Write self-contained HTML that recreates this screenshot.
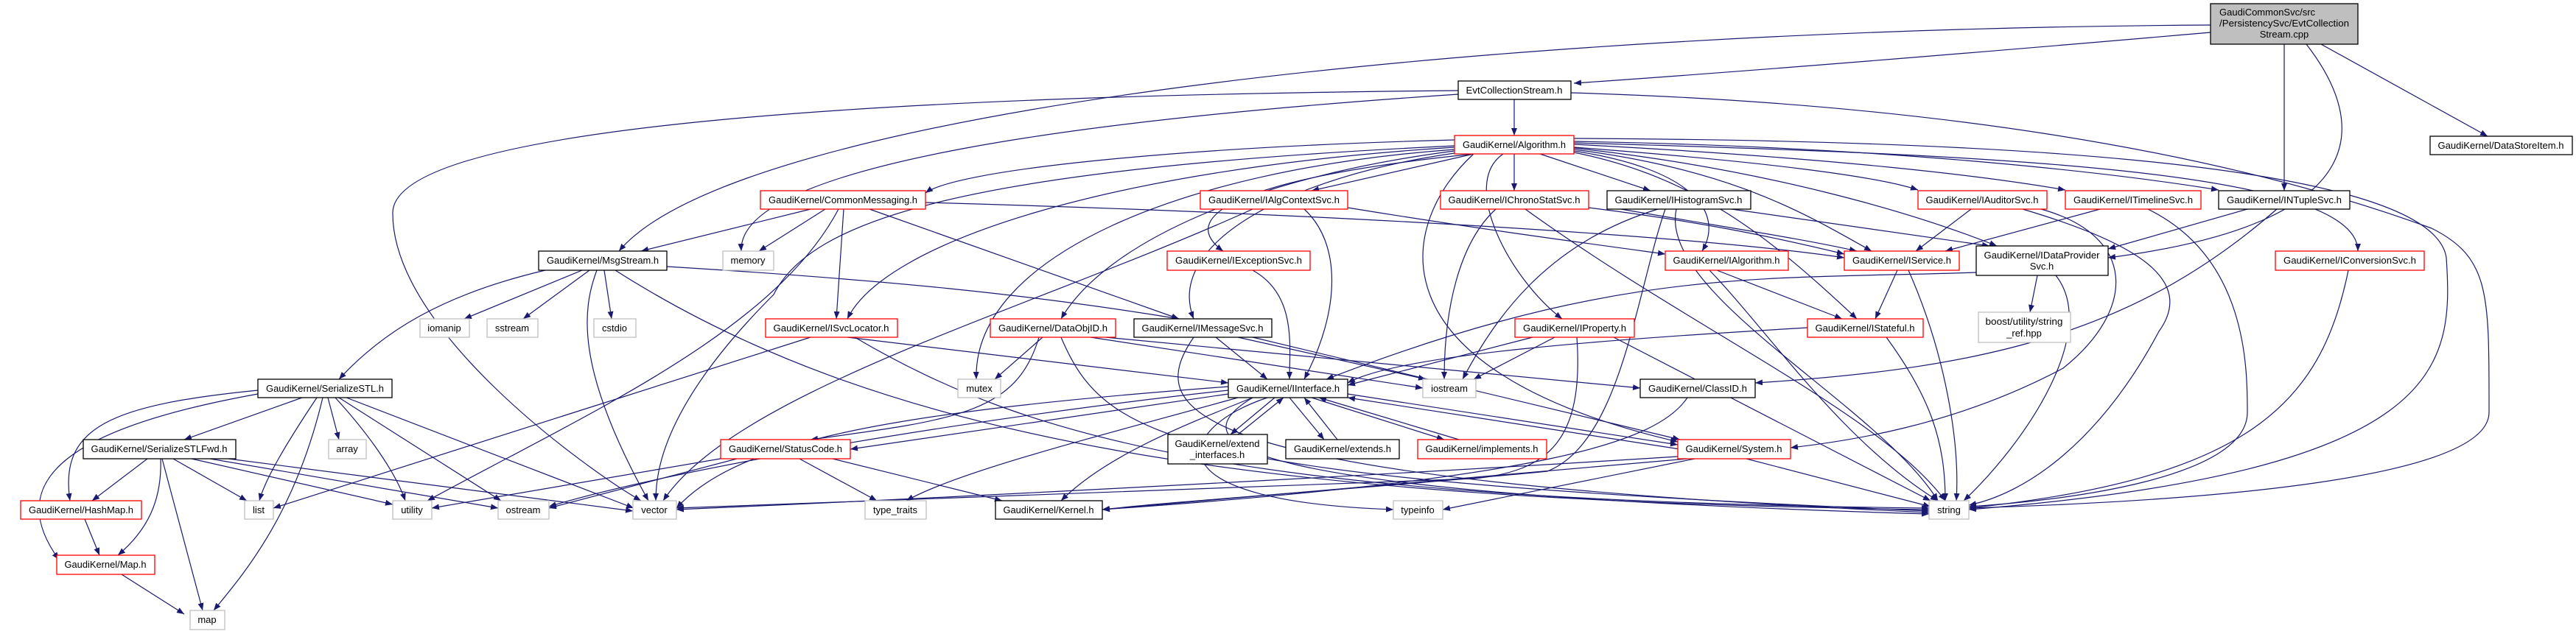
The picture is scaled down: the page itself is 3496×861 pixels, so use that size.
<!DOCTYPE html>
<html><head><meta charset="utf-8"><style>
html,body{margin:0;padding:0;background:#fff;}
svg{display:block}
text{font-family:"Liberation Sans",sans-serif;font-size:13px;fill:#000;}
.e{fill:none;stroke:#191970;stroke-width:1.2}
.b{fill:#fff;stroke:#000;stroke-width:1.3}
.r{fill:#fff;stroke:#ff0000;stroke-width:1.3}
.g{fill:#fff;stroke:#bfbfbf;stroke-width:1.3}
</style></head><body>
<svg width="3496" height="861" viewBox="0 0 3496 861" xmlns="http://www.w3.org/2000/svg">
<defs><marker id="a" viewBox="0 0 10 8" refX="10" refY="4" markerWidth="10" markerHeight="8" markerUnits="userSpaceOnUse" orient="auto"><path d="M0,0 L10,4 L0,8 z" fill="#191970"/></marker></defs>
<g class="e" marker-end="url(#a)">
<path d="M3000,44 C2700,70 2400,95 2136,113"/>
<path d="M3000,34 C2000,40 1000,150 840,341"/>
<path d="M3100,60 L3100,259"/>
<path d="M3130,60 C3200,150 3250,300 2861,350"/>
<path d="M3150,60 L3376,185"/>
<path d="M2055,135 L2055,184"/>
<path d="M1979,123 C1200,130 530,170 533,290 C533,450 800,640 870,680"/>
<path d="M1979,128 C1500,160 1000,220 1006,341"/>
<path d="M2132,126 C2600,140 3000,200 3300,310 C3380,350 3378,400 3378,560 C3378,650 3000,680 2672,690"/>
<path d="M1974,190 C1600,200 1300,230 1256,262"/>
<path d="M2000,209 L1780,259"/>
<path d="M2055,209 L2055,259"/>
<path d="M2090,209 L2240,259"/>
<path d="M2136,200 C2400,220 2550,240 2603,258"/>
<path d="M2136,196 C2500,215 2700,240 2803,258"/>
<path d="M2136,192 C2600,200 2900,240 3011,258"/>
<path d="M2000,209 C1700,240 1590,290 1660,341"/>
<path d="M2136,205 C2300,230 2340,290 2310,341"/>
<path d="M2136,203 C2350,230 2450,290 2540,341"/>
<path d="M2136,201 C2400,230 2600,290 2710,334"/>
<path d="M2136,194 C2700,210 3200,230 3200,341"/>
<path d="M1974,200 C1500,230 1200,330 1150,433"/>
<path d="M1974,205 C1700,240 1500,330 1440,433"/>
<path d="M1974,208 C1750,240 1580,330 1620,433"/>
<path d="M2040,209 C1980,250 2050,380 2120,433"/>
<path d="M1974,203 C1600,230 1320,350 1325,515"/>
<path d="M2000,209 C1900,300 1850,500 2277,600"/>
<path d="M2136,188 C2600,190 3300,210 3320,350 C3330,500 3320,640 2672,692"/>
<path d="M2136,207 C2300,240 2400,320 2520,433"/>
<path d="M1974,198 C1300,230 1100,300 1050,400 C900,550 890,640 890,680"/>
<path d="M1100,284 L870,341"/>
<path d="M1120,284 L1030,341"/>
<path d="M1145,284 L1135,433"/>
<path d="M1180,284 L1600,433"/>
<path d="M1256,275 C1800,290 2300,320 2503,350"/>
<path d="M1138,284 C1050,450 800,560 580,680"/>
<path d="M1770,284 C1820,330 1820,420 1770,515"/>
<path d="M1700,284 C1400,420 1000,530 900,680"/>
<path d="M1829,282 C2000,310 2150,330 2260,345"/>
<path d="M2030,284 C1980,330 1960,420 1960,515"/>
<path d="M2070,284 C2300,450 2550,560 2640,680"/>
<path d="M2156,282 C2300,300 2400,320 2503,345"/>
<path d="M2200,284 C2350,310 2450,325 2520,341"/>
<path d="M2350,284 L2700,334"/>
<path d="M2250,284 C2100,330 2030,430 1985,515"/>
<path d="M2275,284 C2250,400 2550,550 2630,680"/>
<path d="M2260,284 C2220,400 2200,600 2100,640 C1900,660 1600,680 1496,692"/>
<path d="M2675,284 L2600,341"/>
<path d="M2745,284 C2900,330 2980,380 2930,450 C2850,600 2750,670 2672,686"/>
<path d="M2770,284 C2900,320 2900,420 2800,500 C2650,580 2500,600 2430,608"/>
<path d="M2850,284 L2640,341"/>
<path d="M2915,284 C3050,350 3050,500 3050,560 C3050,650 2800,680 2672,688"/>
<path d="M3050,284 L2861,338"/>
<path d="M3090,284 C2900,450 2700,500 2382,520"/>
<path d="M790,367 L630,433"/>
<path d="M800,367 L710,433"/>
<path d="M820,367 L830,433"/>
<path d="M740,367 C600,400 520,450 460,515"/>
<path d="M810,367 C790,420 780,500 880,680"/>
<path d="M835,367 C1200,600 1700,680 2618,692"/>
<path d="M905,362 C1200,380 1400,400 1600,433"/>
<path d="M1700,367 C1760,400 1750,470 1750,515"/>
<path d="M2330,367 L2500,433"/>
<path d="M2320,367 C2400,450 2500,600 2630,680"/>
<path d="M2575,367 L2545,433"/>
<path d="M2590,367 C2640,480 2660,600 2655,680"/>
<path d="M2765,374 L2755,424"/>
<path d="M2790,374 C2850,450 2750,600 2665,680"/>
<path d="M2682,370 C2400,380 2200,360 1800,515"/>
<path d="M3187,367 C3150,550 3050,650 2672,690"/>
<path d="M1150,458 L1667,520"/>
<path d="M1100,458 L371,690"/>
<path d="M1160,458 C1400,600 1700,680 2618,690"/>
<path d="M1415,458 L1350,515"/>
<path d="M1410,458 C1380,560 1300,570 1100,597"/>
<path d="M1480,458 L1931,527"/>
<path d="M1500,458 L2226,527"/>
<path d="M1440,458 C1500,600 1600,650 2618,694"/>
<path d="M1650,458 L1720,515"/>
<path d="M1680,458 L1935,515"/>
<path d="M1620,458 C1550,560 1600,650 2618,696"/>
<path d="M1700,458 L2280,597"/>
<path d="M2080,458 L1829,523"/>
<path d="M2110,458 L2000,515"/>
<path d="M2190,458 L2620,680"/>
<path d="M2140,458 C2150,600 2100,640 2000,650 C1500,670 1100,680 918,690"/>
<path d="M2453,445 C2200,460 1900,480 1829,520"/>
<path d="M2560,458 C2620,540 2640,600 2640,680"/>
<path d="M410,540 L250,597"/>
<path d="M445,540 L460,597"/>
<path d="M430,540 C390,600 360,650 352,680"/>
<path d="M438,540 C400,700 330,780 290,829"/>
<path d="M455,540 C510,600 540,650 550,680"/>
<path d="M460,540 L680,680"/>
<path d="M470,540 L860,690"/>
<path d="M350,530 C150,550 80,580 95,680"/>
<path d="M350,535 C100,580 0,650 80,760"/>
<path d="M200,623 L125,680"/>
<path d="M218,623 C220,680 200,720 160,754"/>
<path d="M220,623 L275,829"/>
<path d="M235,623 L335,680"/>
<path d="M260,623 L533,685"/>
<path d="M285,623 L676,690"/>
<path d="M310,623 L859,694"/>
<path d="M115,705 L135,754"/>
<path d="M165,780 L250,834"/>
<path d="M1000,623 L745,690"/>
<path d="M995,620 L586,690"/>
<path d="M1085,623 L1190,680"/>
<path d="M1130,623 L1360,680"/>
<path d="M1667,535 L1154,610"/>
<path d="M1730,540 L1670,590"/>
<path d="M1680,590 L1742,540"/>
<path d="M1750,540 L1797,597"/>
<path d="M1815,597 L1770,540"/>
<path d="M1780,540 L1960,597"/>
<path d="M1980,597 L1790,540"/>
<path d="M1829,535 L2277,604"/>
<path d="M2280,610 L1829,540"/>
<path d="M1700,540 C1600,580 1500,620 1440,680"/>
<path d="M1720,540 C1600,580 1550,680 1891,692"/>
<path d="M1667,530 C1300,570 900,640 745,688"/>
<path d="M1680,540 C1500,590 1300,640 1230,680"/>
<path d="M1700,540 C1600,600 1650,670 2618,698"/>
<path d="M1667,525 C1200,560 1000,600 918,690"/>
<path d="M2290,540 C2250,600 2100,650 1496,692"/>
<path d="M2290,623 L1496,692"/>
<path d="M2300,623 L1958,692"/>
<path d="M2370,623 L2620,688"/>
<path d="M2277,620 C1800,650 1200,680 918,692"/>
</g>
<g text-anchor="middle">
<rect x="3000" y="5" width="200" height="55" fill="#bfbfbf" stroke="#000" stroke-width="1.3"/>
<text x="3012" y="21" text-anchor="start">GaudiCommonSvc/src</text>
<text x="3012" y="36" text-anchor="start" textLength="176" lengthAdjust="spacingAndGlyphs">/PersistencySvc/EvtCollection</text>
<text x="3100" y="51">Stream.cpp</text>

<rect class="b" x="1979" y="110" width="153" height="25"/><text x="2055" y="127" textLength="131" lengthAdjust="spacingAndGlyphs">EvtCollectionStream.h</text>
<rect class="r" x="1974" y="184" width="162" height="25"/><text x="2055" y="201" textLength="140" lengthAdjust="spacingAndGlyphs">GaudiKernel/Algorithm.h</text>
<rect class="b" x="3298" y="185" width="193" height="25"/><text x="3394" y="202" textLength="171" lengthAdjust="spacingAndGlyphs">GaudiKernel/DataStoreItem.h</text>
<rect class="r" x="1032" y="259" width="224" height="25"/><text x="1144" y="276" textLength="202" lengthAdjust="spacingAndGlyphs">GaudiKernel/CommonMessaging.h</text>
<rect class="r" x="1629" y="259" width="200" height="25"/><text x="1729" y="276" textLength="178" lengthAdjust="spacingAndGlyphs">GaudiKernel/IAlgContextSvc.h</text>
<rect class="r" x="1955" y="259" width="201" height="25"/><text x="2055" y="276" textLength="179" lengthAdjust="spacingAndGlyphs">GaudiKernel/IChronoStatSvc.h</text>
<rect class="b" x="2181" y="259" width="195" height="25"/><text x="2278" y="276" textLength="173" lengthAdjust="spacingAndGlyphs">GaudiKernel/IHistogramSvc.h</text>
<rect class="r" x="2603" y="259" width="175" height="25"/><text x="2690" y="276" textLength="153" lengthAdjust="spacingAndGlyphs">GaudiKernel/IAuditorSvc.h</text>
<rect class="r" x="2803" y="259" width="184" height="25"/><text x="2895" y="276" textLength="162" lengthAdjust="spacingAndGlyphs">GaudiKernel/ITimelineSvc.h</text>
<rect class="b" x="3011" y="259" width="178" height="25"/><text x="3100" y="276" textLength="156" lengthAdjust="spacingAndGlyphs">GaudiKernel/INTupleSvc.h</text>
<rect class="b" x="731" y="341" width="174" height="26"/><text x="818" y="358" textLength="152" lengthAdjust="spacingAndGlyphs">GaudiKernel/MsgStream.h</text>
<rect class="g" x="981" y="341" width="69" height="26"/><text x="1015" y="358">memory</text>
<rect class="r" x="1584" y="341" width="194" height="26"/><text x="1681" y="358" textLength="172" lengthAdjust="spacingAndGlyphs">GaudiKernel/IExceptionSvc.h</text>
<rect class="r" x="2260" y="341" width="167" height="26"/><text x="2343" y="358" textLength="145" lengthAdjust="spacingAndGlyphs">GaudiKernel/IAlgorithm.h</text>
<rect class="r" x="2503" y="341" width="156" height="26"/><text x="2581" y="358" textLength="134" lengthAdjust="spacingAndGlyphs">GaudiKernel/IService.h</text>
<rect class="b" x="2682" y="334" width="179" height="40"/><text x="2771" y="351" textLength="157" lengthAdjust="spacingAndGlyphs">GaudiKernel/IDataProvider</text><text x="2771" y="366">Svc.h</text>
<rect class="r" x="3088" y="341" width="202" height="26"/><text x="3189" y="358" textLength="180" lengthAdjust="spacingAndGlyphs">GaudiKernel/IConversionSvc.h</text>
<rect class="g" x="570" y="433" width="67" height="25"/><text x="603" y="450">iomanip</text>
<rect class="g" x="661" y="433" width="69" height="25"/><text x="695" y="450">sstream</text>
<rect class="g" x="806" y="433" width="57" height="25"/><text x="834" y="450">cstdio</text>
<rect class="r" x="1039" y="433" width="179" height="25"/><text x="1128" y="450" textLength="157" lengthAdjust="spacingAndGlyphs">GaudiKernel/ISvcLocator.h</text>
<rect class="r" x="1344" y="433" width="170" height="25"/><text x="1429" y="450" textLength="148" lengthAdjust="spacingAndGlyphs">GaudiKernel/DataObjID.h</text>
<rect class="b" x="1539" y="433" width="187" height="25"/><text x="1632" y="450" textLength="165" lengthAdjust="spacingAndGlyphs">GaudiKernel/IMessageSvc.h</text>
<rect class="r" x="2056" y="433" width="162" height="25"/><text x="2137" y="450" textLength="140" lengthAdjust="spacingAndGlyphs">GaudiKernel/IProperty.h</text>
<rect class="g" x="2685" y="424" width="125" height="41"/><text x="2747" y="441" textLength="105" lengthAdjust="spacingAndGlyphs">boost/utility/string</text><text x="2747" y="457">_ref.hpp</text>
<rect class="r" x="2453" y="433" width="157" height="25"/><text x="2531" y="450" textLength="135" lengthAdjust="spacingAndGlyphs">GaudiKernel/IStateful.h</text>
<rect class="b" x="350" y="515" width="182" height="25"/><text x="441" y="532" textLength="160" lengthAdjust="spacingAndGlyphs">GaudiKernel/SerializeSTL.h</text>
<rect class="g" x="1300" y="515" width="58" height="25"/><text x="1329" y="532">mutex</text>
<rect class="b" x="1667" y="515" width="162" height="25"/><text x="1748" y="532" textLength="140" lengthAdjust="spacingAndGlyphs">GaudiKernel/IInterface.h</text>
<rect class="g" x="1931" y="515" width="72" height="25"/><text x="1967" y="532">iostream</text>
<rect class="b" x="2226" y="515" width="156" height="25"/><text x="2304" y="532" textLength="134" lengthAdjust="spacingAndGlyphs">GaudiKernel/ClassID.h</text>
<rect class="g" x="446" y="597" width="51" height="26"/><text x="471" y="614">array</text>
<rect class="b" x="113" y="597" width="207" height="26"/><text x="216" y="614" textLength="185" lengthAdjust="spacingAndGlyphs">GaudiKernel/SerializeSTLFwd.h</text>
<rect class="r" x="978" y="597" width="176" height="26"/><text x="1066" y="614" textLength="154" lengthAdjust="spacingAndGlyphs">GaudiKernel/StatusCode.h</text>
<rect class="b" x="1585" y="590" width="135" height="40"/><text x="1652" y="607" textLength="115" lengthAdjust="spacingAndGlyphs">GaudiKernel/extend</text><text x="1652" y="622">_interfaces.h</text>
<rect class="b" x="1745" y="597" width="154" height="26"/><text x="1822" y="614" textLength="132" lengthAdjust="spacingAndGlyphs">GaudiKernel/extends.h</text>
<rect class="r" x="1924" y="597" width="175" height="26"/><text x="2011" y="614" textLength="153" lengthAdjust="spacingAndGlyphs">GaudiKernel/implements.h</text>
<rect class="r" x="2277" y="597" width="153" height="26"/><text x="2353" y="614" textLength="131" lengthAdjust="spacingAndGlyphs">GaudiKernel/System.h</text>
<rect class="r" x="28" y="680" width="164" height="25"/><text x="110" y="697" textLength="142" lengthAdjust="spacingAndGlyphs">GaudiKernel/HashMap.h</text>
<rect class="g" x="332" y="680" width="39" height="25"/><text x="351" y="697">list</text>
<rect class="g" x="533" y="680" width="53" height="25"/><text x="559" y="697">utility</text>
<rect class="g" x="676" y="680" width="69" height="25"/><text x="710" y="697">ostream</text>
<rect class="g" x="859" y="680" width="59" height="25"/><text x="888" y="697">vector</text>
<rect class="g" x="1174" y="680" width="83" height="25"/><text x="1215" y="697">type_traits</text>
<rect class="b" x="1351" y="680" width="145" height="25"/><text x="1423" y="697" textLength="123" lengthAdjust="spacingAndGlyphs">GaudiKernel/Kernel.h</text>
<rect class="g" x="1891" y="680" width="67" height="25"/><text x="1924" y="697">typeinfo</text>
<rect class="g" x="2618" y="680" width="54" height="25"/><text x="2645" y="697">string</text>
<rect class="r" x="77" y="754" width="133" height="26"/><text x="143" y="771" textLength="111" lengthAdjust="spacingAndGlyphs">GaudiKernel/Map.h</text>
<rect class="g" x="258" y="829" width="47" height="26"/><text x="281" y="846">map</text>
</g>
</svg>
</body></html>
